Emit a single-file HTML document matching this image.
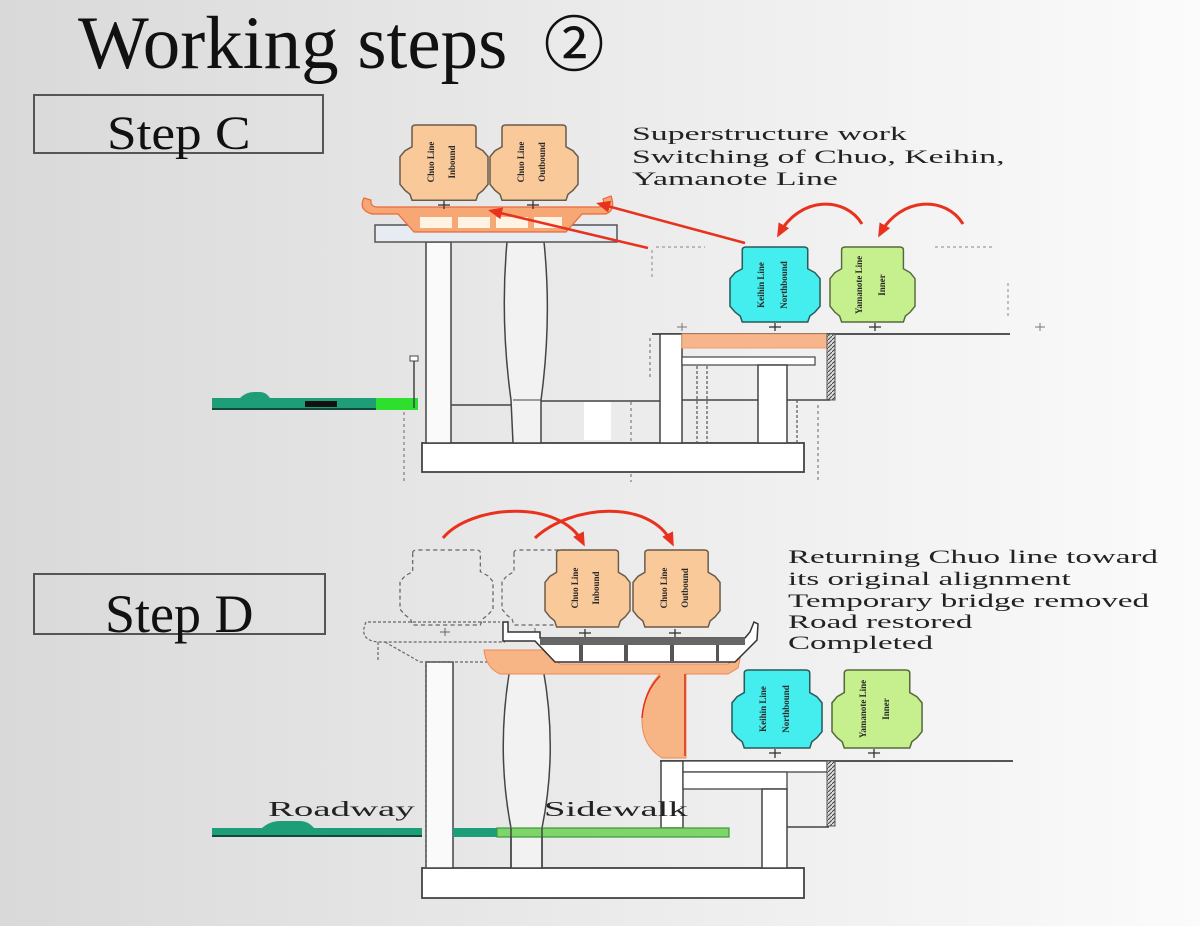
<!DOCTYPE html>
<html>
<head>
<meta charset="utf-8">
<style>
html,body{margin:0;padding:0;width:1200px;height:926px;overflow:hidden;background:#e8e8e8;}
svg{display:block;}
text{font-family:"Liberation Serif","Noto Serif CJK SC",serif;}
</style>
</head>
<body>
<svg width="1200" height="926" viewBox="0 0 1200 926" xmlns="http://www.w3.org/2000/svg">
<defs>
  <linearGradient id="bg" x1="0" y1="0" x2="1" y2="0">
    <stop offset="0" stop-color="#d9d9d9"/>
    <stop offset="0.45" stop-color="#e9e9e9"/>
    <stop offset="1" stop-color="#fbfbfb"/>
  </linearGradient>
  <pattern id="hatch" width="4" height="4" patternUnits="userSpaceOnUse">
    <rect width="4" height="4" fill="#ddd"/>
    <path d="M0,4 L4,0" stroke="#444" stroke-width="1"/>
  </pattern>
  <marker id="ah" markerUnits="userSpaceOnUse" markerWidth="14" markerHeight="12" refX="10" refY="6" orient="auto">
    <path d="M0,0 L14,6 L0,12 Z" fill="#e8321e"/>
  </marker>
  <path id="car" d="M12,3 Q12,0 16,0 L72,0 Q76,0 76,3 L76,22 L83,26 L88,32 L88,60 L83,66 L78,70 L76,76 L12,76 L10,70 L5,66 L0,60 L0,32 L5,26 L12,22 Z"/>
</defs>

<rect width="1200" height="926" fill="url(#bg)"/>

<!-- Title -->
<text x="78" y="68" font-size="75" fill="#111">Working steps</text>
<text x="574" y="66" text-anchor="middle" font-size="60" fill="#111" style="font-family:'Noto Sans CJK JP','DejaVu Sans',sans-serif">②</text>
<circle cx="574" cy="43" r="27" fill="none" stroke="#111" stroke-width="2.5"/>

<!-- Step boxes -->
<rect x="34" y="95" width="289" height="58" fill="none" stroke="#555" stroke-width="2"/>
<text transform="translate(107,149) scale(1.11,1)" font-size="48" fill="#111">Step C</text>
<rect x="34" y="574" width="291" height="60" fill="none" stroke="#555" stroke-width="2"/>
<text x="105" y="632" font-size="54" fill="#111">Step D</text>

<!-- ================= STEP C ================= -->
<g stroke="#444" stroke-width="1.5" fill="none">
  <line x1="451" y1="405" x2="512" y2="405"/>
  <line x1="540" y1="401" x2="660" y2="401"/>
</g>
<g stroke="#666" stroke-width="1" stroke-dasharray="3 3" fill="none">
  <line x1="404" y1="400" x2="404" y2="482"/>
  <line x1="631" y1="402" x2="631" y2="482"/>
  <line x1="818" y1="405" x2="818" y2="482"/>
  <line x1="528" y1="244" x2="528" y2="443"/>
  <line x1="650" y1="338" x2="650" y2="380"/>
</g>
<rect x="584" y="402" width="27" height="38" fill="#fff"/>
<rect x="422" y="443" width="382" height="29" fill="#fff" stroke="#444" stroke-width="1.8"/>
<rect x="426" y="242" width="25" height="201" fill="#fafafa" stroke="#444" stroke-width="1.5"/>
<path d="M507,242 Q500,320 511,400 L513,443 L541,443 L541,400 Q552,320 544,242 Z" fill="#f2f2f2" stroke="#444" stroke-width="1.5"/>
<line x1="513" y1="400" x2="541" y2="400" stroke="#444" stroke-width="1"/>

<!-- right structure C -->
<line x1="652" y1="334" x2="1010" y2="334" stroke="#555" stroke-width="2"/>
<rect x="660" y="334" width="22" height="109" fill="#fff" stroke="#444" stroke-width="1.5"/>
<rect x="682" y="334" width="148" height="14" fill="#f6b58a" stroke="#eea070" stroke-width="1"/>
<rect x="682" y="357" width="133" height="8" fill="#fff" stroke="#444" stroke-width="1.2"/>
<line x1="682" y1="400" x2="758" y2="400" stroke="#444" stroke-width="1.5"/>
<rect x="758" y="365" width="29" height="78" fill="#fff" stroke="#444" stroke-width="1.5"/>
<rect x="827" y="334" width="8" height="66" fill="url(#hatch)" stroke="#555" stroke-width="1"/>
<line x1="787" y1="400" x2="830" y2="400" stroke="#444" stroke-width="1.5"/>
<g stroke="#555" stroke-width="1.2" stroke-dasharray="3 2">
  <line x1="697" y1="366" x2="697" y2="443"/>
  <line x1="707" y1="366" x2="707" y2="443"/>
  <line x1="797" y1="400" x2="797" y2="443"/>
</g>

<!-- road C -->
<rect x="212" y="398" width="164" height="12" fill="#1e9e78"/>
<path d="M240,398 Q246,392 254,392 L260,392 Q266,392 270,398 Z" fill="#1e9e78"/>
<rect x="305" y="401" width="32" height="6" fill="#111"/>
<rect x="212" y="408" width="206" height="2" fill="#124a3a"/>
<rect x="376" y="398" width="42" height="12" fill="#2ee02e"/>
<line x1="414" y1="361" x2="414" y2="408" stroke="#444" stroke-width="1.5"/>
<rect x="410" y="356" width="8" height="5" fill="#fff" stroke="#444" stroke-width="1"/>

<!-- deck C -->
<rect x="375" y="225" width="242" height="17" fill="#e6ecf2" stroke="#555" stroke-width="1.5"/>
<path d="M364,198 Q358,210 372,214 L398,214 L414,232 L566,232 L582,214 L606,214 Q616,210 611,196 L603,199 Q606,207 598,207 L378,207 Q370,207 371,200 Z" fill="#f6a774" stroke="#e86a3c" stroke-width="1.2"/>
<g fill="#fff4e4">
  <rect x="420" y="217" width="32" height="11"/>
  <rect x="458" y="217" width="32" height="11"/>
  <rect x="496" y="217" width="32" height="11"/>
  <rect x="534" y="217" width="28" height="11"/>
</g>

<!-- orange cars C -->
<use href="#car" transform="translate(400,125) scale(1,0.99)" fill="#f9c99a" stroke="#6a5a4a" stroke-width="1.5"/>
<use href="#car" transform="translate(490,125) scale(1,0.99)" fill="#f9c99a" stroke="#6a5a4a" stroke-width="1.5"/>
<g font-size="9" font-weight="bold" fill="#2a2a2a" text-anchor="middle">
  <text transform="translate(434,162) rotate(-90)">Chuo Line</text>
  <text transform="translate(455,162) rotate(-90)">Inbound</text>
  <text transform="translate(524,162) rotate(-90)">Chuo Line</text>
  <text transform="translate(545,162) rotate(-90)">Outbound</text>
</g>
<g stroke="#333" stroke-width="1.3">
  <line x1="438" y1="205" x2="450" y2="205"/><line x1="444" y1="201" x2="444" y2="209"/>
  <line x1="527" y1="205" x2="539" y2="205"/><line x1="533" y1="201" x2="533" y2="209"/>
</g>

<!-- ghosts near cyan C -->
<g stroke="#888" stroke-width="1" stroke-dasharray="3 3" fill="none">
  <line x1="656" y1="247" x2="705" y2="247"/>
  <line x1="652" y1="250" x2="652" y2="280"/>
  <line x1="935" y1="247" x2="995" y2="247"/>
  <line x1="1008" y1="283" x2="1008" y2="318"/>
</g>
<g stroke="#777" stroke-width="1">
  <line x1="677" y1="327" x2="687" y2="327"/><line x1="682" y1="323" x2="682" y2="331"/>
  <line x1="1035" y1="327" x2="1045" y2="327"/><line x1="1040" y1="323" x2="1040" y2="331"/>
</g>

<!-- cyan / green cars C -->
<use href="#car" transform="translate(730,247) scale(1.023,0.987)" fill="#44eeee" stroke="#2a5a5a" stroke-width="1.5"/>
<use href="#car" transform="translate(830,247) scale(0.966,0.987)" fill="#c6f08e" stroke="#556a3a" stroke-width="1.5"/>
<g font-size="9" font-weight="bold" fill="#2a2a2a" text-anchor="middle">
  <text transform="translate(764,285) rotate(-90)">Keihin Line</text>
  <text transform="translate(787,285) rotate(-90)">Northbound</text>
  <text transform="translate(862,285) rotate(-90)">Yamanote Line</text>
  <text transform="translate(885,285) rotate(-90)">Inner</text>
</g>
<g stroke="#333" stroke-width="1.3">
  <line x1="769" y1="327" x2="781" y2="327"/><line x1="775" y1="323" x2="775" y2="331"/>
  <line x1="869" y1="327" x2="881" y2="327"/><line x1="875" y1="323" x2="875" y2="331"/>
</g>

<!-- red arrows C -->
<g stroke="#e8321e" stroke-width="2.5" fill="none">
  <line x1="745" y1="243" x2="600" y2="204" marker-end="url(#ah)"/>
  <line x1="648" y1="248" x2="492" y2="211" marker-end="url(#ah)"/>
  <path d="M862,224 C845,196 800,196 779,234" stroke-width="3" marker-end="url(#ah)"/>
  <path d="M963,224 C946,196 901,196 880,234" stroke-width="3" marker-end="url(#ah)"/>
</g>

<!-- text C -->
<g font-size="19" fill="#222">
  <text transform="translate(632,140) scale(1.78,1)">Superstructure work</text>
  <text transform="translate(632,163) scale(1.78,1)">Switching of Chuo, Keihin,</text>
  <text transform="translate(632,185) scale(1.78,1)">Yamanote Line</text>
</g>

<!-- ================= STEP D ================= -->
<rect x="422" y="868" width="382" height="30" fill="#fff" stroke="#444" stroke-width="1.8"/>
<rect x="426" y="662" width="27" height="206" fill="#fafafa" stroke="#444" stroke-width="1.5"/>
<line x1="426" y1="662" x2="426" y2="868" stroke="#666" stroke-width="1.2" stroke-dasharray="3 2"/>
<path d="M510,668 Q496,750 511,828 L511,868 L542,868 L542,828 Q558,750 543,668 Z" fill="#f2f2f2" stroke="#444" stroke-width="1.5"/>

<!-- right structure D -->
<line x1="660" y1="761" x2="1013" y2="761" stroke="#555" stroke-width="2"/>
<rect x="661" y="761" width="22" height="67" fill="#fff" stroke="#444" stroke-width="1.5"/>
<rect x="683" y="761" width="144" height="11" fill="#fff" stroke="#444" stroke-width="1.3"/>
<rect x="683" y="772" width="104" height="17" fill="#fff" stroke="#444" stroke-width="1.3"/>
<rect x="762" y="789" width="25" height="79" fill="#fff" stroke="#444" stroke-width="1.5"/>
<rect x="827" y="761" width="8" height="65" fill="url(#hatch)" stroke="#555" stroke-width="1"/>
<line x1="787" y1="827" x2="829" y2="827" stroke="#444" stroke-width="1.5"/>

<!-- road D -->
<rect x="212" y="828" width="210" height="9" fill="#1e9e78"/>
<path d="M262,828 Q270,821 280,821 L300,821 Q308,821 314,828 Z" fill="#1e9e78"/>
<rect x="212" y="835" width="210" height="2" fill="#124a3a"/>
<rect x="453" y="828" width="44" height="9" fill="#1e9e78"/>
<rect x="497" y="828" width="232" height="9" fill="#7fd46a" stroke="#3a9a3a" stroke-width="1.2"/>
<line x1="511" y1="828" x2="511" y2="868" stroke="#444" stroke-width="1.5"/>
<line x1="542" y1="828" x2="542" y2="868" stroke="#444" stroke-width="1.5"/>

<!-- road labels -->
<g font-size="21" fill="#222">
  <text transform="translate(268,816) scale(1.85,1)">Roadway</text>
  <text transform="translate(544,816) scale(1.84,1)">Sidewalk</text>
</g>

<!-- ghost deck D -->
<g stroke="#666" stroke-width="1.2" stroke-dasharray="3 2" fill="none">
  <path d="M366,622 Q358,640 378,642 L505,642"/>
  <line x1="368" y1="622" x2="500" y2="622"/>
  <line x1="385" y1="642" x2="420" y2="662"/>
  <line x1="420" y1="662" x2="505" y2="662"/>
  <line x1="378" y1="642" x2="378" y2="662"/>
</g>
<use href="#car" transform="translate(400,550) scale(1.057,0.987)" fill="none" stroke="#666" stroke-width="1.2" stroke-dasharray="4 3"/>
<use href="#car" transform="translate(502,550) scale(1.0,0.987)" fill="none" stroke="#666" stroke-width="1.2" stroke-dasharray="4 3"/>
<g stroke="#666" stroke-width="1">
  <line x1="440" y1="632" x2="450" y2="632"/><line x1="445" y1="628" x2="445" y2="636"/>
  <line x1="530" y1="632" x2="540" y2="632"/><line x1="535" y1="628" x2="535" y2="636"/>
</g>

<!-- orange cap + stem D -->
<path d="M484,650 L548,650 L560,664 L728,664 L742,650 L738,668 L728,674 L686,674 L686,758 L662,758 Q641,745 642,718 Q644,690 660,674 L500,674 Q486,668 484,650 Z" fill="#f7b586" stroke="#ee8855" stroke-width="1"/>
<line x1="685" y1="674" x2="685" y2="756" stroke="#e05030" stroke-width="2"/>
<path d="M660,676 Q644,692 642,718" stroke="#e03020" stroke-width="1.5" fill="none"/>

<!-- new deck D -->
<path d="M503,622 L508,622 L508,632 L540,632 L540,638 L745,638 L750,632 L754,622 L758,624 L757,640 L735,662 L555,662 L535,641 L503,641 Z" fill="#fff" stroke="#333" stroke-width="1.5"/>
<rect x="540" y="638" width="205" height="7" fill="#666"/>
<g fill="#555">
  <rect x="579" y="645" width="4" height="16"/>
  <rect x="624" y="645" width="4" height="16"/>
  <rect x="670" y="645" width="4" height="16"/>
  <rect x="716" y="645" width="3" height="16"/>
</g>

<!-- orange cars D -->
<use href="#car" transform="translate(545,550) scale(0.966,1.013)" fill="#f9c99a" stroke="#6a5a4a" stroke-width="1.5"/>
<use href="#car" transform="translate(633,550) scale(0.989,1.013)" fill="#f9c99a" stroke="#6a5a4a" stroke-width="1.5"/>
<g font-size="9" font-weight="bold" fill="#2a2a2a" text-anchor="middle">
  <text transform="translate(578,588) rotate(-90)">Chuo Line</text>
  <text transform="translate(599,588) rotate(-90)">Inbound</text>
  <text transform="translate(667,588) rotate(-90)">Chuo Line</text>
  <text transform="translate(688,588) rotate(-90)">Outbound</text>
</g>
<g stroke="#333" stroke-width="1.3">
  <line x1="579" y1="633" x2="591" y2="633"/><line x1="585" y1="629" x2="585" y2="637"/>
  <line x1="669" y1="633" x2="681" y2="633"/><line x1="675" y1="629" x2="675" y2="637"/>
</g>

<!-- cyan / green cars D -->
<use href="#car" transform="translate(732,670) scale(1.023,1.026)" fill="#44eeee" stroke="#2a5a5a" stroke-width="1.5"/>
<use href="#car" transform="translate(832,670) scale(1.023,1.026)" fill="#c6f08e" stroke="#556a3a" stroke-width="1.5"/>
<g font-size="9" font-weight="bold" fill="#2a2a2a" text-anchor="middle">
  <text transform="translate(766,709) rotate(-90)">Keihin Line</text>
  <text transform="translate(789,709) rotate(-90)">Northbound</text>
  <text transform="translate(866,709) rotate(-90)">Yamanote Line</text>
  <text transform="translate(889,709) rotate(-90)">Inner</text>
</g>
<g stroke="#333" stroke-width="1.3">
  <line x1="769" y1="753" x2="781" y2="753"/><line x1="775" y1="749" x2="775" y2="758"/>
  <line x1="868" y1="753" x2="880" y2="753"/><line x1="874" y1="749" x2="874" y2="758"/>
</g>

<!-- red arcs D -->
<g stroke="#e8321e" stroke-width="3" fill="none">
  <path d="M443,538 C470,505 560,498 583,543" marker-end="url(#ah)"/>
  <path d="M535,538 C570,505 650,498 672,543" marker-end="url(#ah)"/>
</g>

<!-- text D -->
<g font-size="19" fill="#222">
  <text transform="translate(788,563) scale(1.74,1)">Returning Chuo line toward</text>
  <text transform="translate(788,585) scale(1.74,1)">its original alignment</text>
  <text transform="translate(788,607) scale(1.74,1)">Temporary bridge removed</text>
  <text transform="translate(788,628) scale(1.74,1)">Road restored</text>
  <text transform="translate(788,649) scale(1.74,1)">Completed</text>
</g>
</svg>
</body>
</html>
